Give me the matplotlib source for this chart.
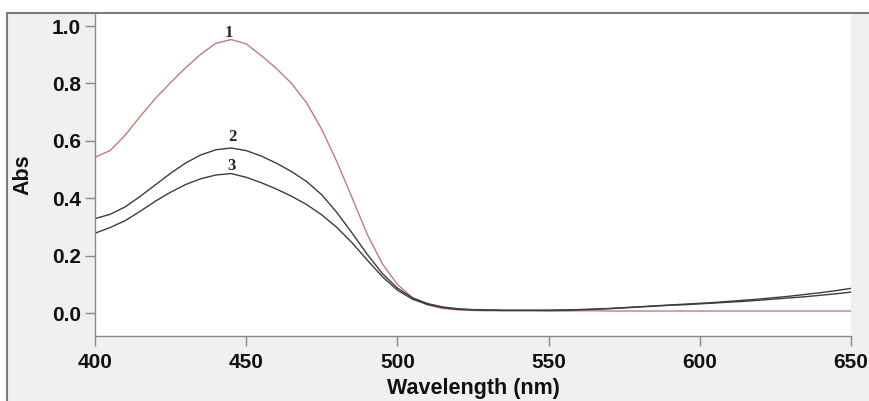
import matplotlib.pyplot as plt
from matplotlib.patches import Rectangle

wavelength = list(range(400, 655, 5))

abs_1 = [0.543, 0.566, 0.620, 0.686, 0.748, 0.803, 0.855, 0.902, 0.940, 0.953,
         0.938, 0.897, 0.852, 0.800, 0.732, 0.640, 0.527, 0.402, 0.275, 0.172,
         0.100, 0.053, 0.028, 0.016, 0.011, 0.009, 0.008, 0.008, 0.008, 0.008,
         0.007, 0.007, 0.008, 0.008, 0.007, 0.007, 0.007, 0.007, 0.007, 0.007,
         0.007, 0.007, 0.007, 0.007, 0.007, 0.007, 0.007, 0.007, 0.007, 0.007,
         0.007]
abs_2 = [0.329, 0.344, 0.370, 0.407, 0.447, 0.487, 0.523, 0.551, 0.569, 0.575,
         0.566, 0.547, 0.522, 0.493, 0.458, 0.412, 0.350, 0.279, 0.205, 0.138,
         0.087, 0.053, 0.033, 0.021, 0.015, 0.012, 0.011, 0.010, 0.010, 0.010,
         0.010, 0.011, 0.012, 0.014, 0.016, 0.019, 0.022, 0.025, 0.028, 0.031,
         0.034, 0.037, 0.041, 0.045, 0.049, 0.054, 0.059, 0.065, 0.071, 0.078,
         0.086]
abs_3 = [0.278, 0.298, 0.322, 0.355, 0.390, 0.421, 0.448, 0.468, 0.481, 0.486,
         0.473, 0.454, 0.432, 0.407, 0.378, 0.342, 0.298, 0.245, 0.185, 0.127,
         0.080, 0.048, 0.030, 0.019, 0.013, 0.011, 0.010, 0.009, 0.009, 0.009,
         0.009, 0.010, 0.011, 0.013, 0.015, 0.018, 0.021, 0.024, 0.027, 0.029,
         0.032, 0.035, 0.038, 0.041, 0.045, 0.049, 0.053, 0.057, 0.062, 0.067,
         0.073]

# curve number labels (wavelength, abs)
labels = ["1", "2", "3"]
label_x = [444.1, 445.3, 445.3]
label_y = [0.977, 0.612, 0.514]

plt.rcParams['font.family'] = ['Liberation Sans', 'DejaVu Sans']

fig = plt.figure(figsize=(8.7, 4.01), dpi=100, facecolor="white")

# grey frame behind the plot
frame = Rectangle((7.5 / 870, -0.01), 1.0, 1 - 13 / 401 + 0.01,
                  transform=fig.transFigure, facecolor="#f0f0f0",
                  edgecolor="#7a7a7a", linewidth=1.5, zorder=-10)
fig.patches.append(frame)

ax = fig.add_axes([95 / 870, 1 - 336 / 401, (851 - 95) / 870, (336 - 14) / 401])
ax.set_facecolor("white")

ax.plot(wavelength, abs_1, color="#c47a7a", linewidth=1.0)
ax.plot(wavelength, abs_2, color="#3c3c44", linewidth=1.0)
ax.plot(wavelength, abs_3, color="#3c3c44", linewidth=1.0)

for t, x, y in zip(labels, label_x, label_y):
    ax.text(x, y, t, ha="center", va="center", fontsize=12, fontweight="bold",
            family="Liberation Serif", color="#222222")

ax.set_xlim(400, 650)
ax.set_ylim(-0.08, 1.042)
ax.set_xticks([400, 450, 500, 550, 600, 650])
ax.set_yticks([0.0, 0.2, 0.4, 0.6, 0.8, 1.0])
ax.set_yticklabels(["0.0", "0.2", "0.4", "0.6", "0.8", "1.0"])

for s in ["top", "right"]:
    ax.spines[s].set_visible(False)
for s in ["left", "bottom"]:
    ax.spines[s].set_color("#8a8a8a")
    ax.spines[s].set_linewidth(1.0)

ax.tick_params(axis="both", direction="out", length=7, width=1, color="#8a8a8a",
               labelsize=15, labelcolor="#111111")
ax.tick_params(axis="y", pad=3)
ax.tick_params(axis="x", pad=5)
for lab in ax.get_xticklabels() + ax.get_yticklabels():
    lab.set_fontweight("bold")

ax.set_xlabel("Wavelength (nm)", fontsize=15.5, fontweight="bold", color="#111111")
ax.set_ylabel("Abs", fontsize=15.5, fontweight="bold", color="#111111")
ax.xaxis.set_label_coords(0.5, -0.13)
ax.yaxis.set_label_coords(-0.082, 0.5)

plt.savefig("out.png", dpi=100)
